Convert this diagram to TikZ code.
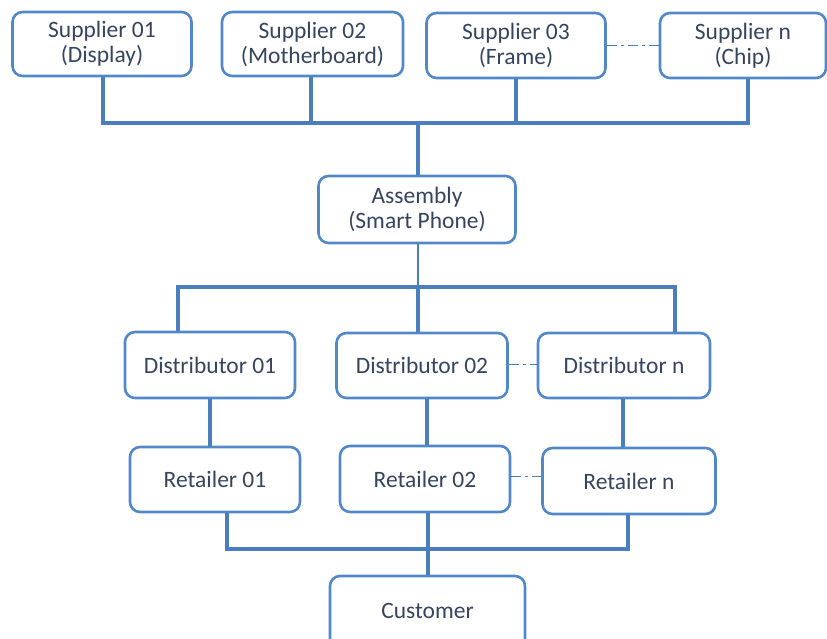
\documentclass[tikz,border=0pt]{standalone}
\usepackage{fontspec}
\setmainfont{Carlito}
\definecolor{boxline}{HTML}{5388C8}
\definecolor{busline}{HTML}{4A7EBF}
\definecolor{labeltext}{HTML}{36445E}
\begin{document}
\begin{tikzpicture}[x=1pt,y=-1pt,
  stage/.style={draw=boxline, line width=2.6pt, rounded corners=10pt, fill=white,
    text=labeltext, font=\fontsize{23.5}{25}\selectfont, align=center,
    inner sep=0pt, anchor=center},
  bus/.style={draw=busline, line width=4pt, line join=miter},
  thinlink/.style={draw=busline, line width=1.6pt},
  peer/.style={draw=busline, line width=1pt, dash pattern=on 10pt off 4pt on 3pt off 4pt}]
\useasboundingbox (0,0) rectangle (827,639);
\begin{scope}
\clip (0,0) rectangle (827,639);

% suppliers
\node[stage, minimum width=179pt, minimum height=64pt] (s1) at (102,44) {Supplier 01\\(Display)};
\node[stage, minimum width=181pt, minimum height=64pt] (s2) at (312.5,44) {Supplier 02\\(Motherboard)};
\node[stage, minimum width=179pt, minimum height=65pt] (s3) at (516,45.5) {Supplier 03\\(Frame)};
\node[stage, minimum width=166pt, minimum height=65pt] (sn) at (743,45.5) {Supplier n\\(Chip)};

% assembly
\node[stage, minimum width=197pt, minimum height=67pt] (asm) at (417,209.5) {Assembly\\(Smart Phone)};

% distributors
\node[stage, minimum width=170pt, minimum height=66pt] (d1) at (210,365) {Distributor 01};
\node[stage, minimum width=171pt, minimum height=65pt] (d2) at (422,365.5) {Distributor 02};
\node[stage, minimum width=172pt, minimum height=65pt] (dn) at (624,365.5) {Distributor n};

% retailers
\node[stage, minimum width=170pt, minimum height=65pt] (r1) at (215,479.5) {Retailer 01};
\node[stage, minimum width=170pt, minimum height=66pt] (r2) at (425,479) {Retailer 02};
\node[stage, minimum width=173pt, minimum height=66pt] (rn) at (629,481) {Retailer n};

% customer
\node[stage, minimum width=195pt, minimum height=80pt] (cu) at (427.5,616) {};
\node[text=labeltext, font=\fontsize{23.5}{25}\selectfont] (cutext) at (427.5,611) {Customer};

% bus junction points and feet of the vertical drops
\coordinate (topbus) at (418,123);
\coordinate (midbus) at (418,287);
\coordinate (lowbus) at (428,549);
\coordinate (s1foot) at ([xshift=1pt]s1.south);
\coordinate (s2foot) at ([xshift=-2pt]s2.south);
\coordinate (snfoot) at ([xshift=5pt]sn.south);
\coordinate (d1top) at (178,0);
\coordinate (dntop) at (675,0);
\coordinate (d2foot) at ([xshift=5pt]d2.south);
\coordinate (dnfoot) at ([xshift=-1pt]dn.south);
\coordinate (r1foot) at ([xshift=12pt]r1.south);
\coordinate (rnfoot) at ([xshift=-1pt]rn.south);

% suppliers to assembly
\draw[bus] (s1foot) |- (snfoot |- topbus) -- (snfoot);
\draw[bus] (s2foot) -- (s2foot |- topbus);
\draw[bus] (s3.south) -- (s3.south |- topbus);
\draw[bus] (topbus) -- (asm.north -| topbus);

% assembly to distributors
\draw[thinlink] (asm.south -| midbus) -- (midbus);
\draw[bus] (d1.north -| d1top) |- (midbus) -| (dn.north -| dntop);
\draw[bus] (midbus) -- (d2.north -| midbus);

% distributors to retailers
\draw[bus] (d1.south) -- (r1.north -| d1.south);
\draw[bus] (d2foot) -- (r2.north -| d2foot);
\draw[bus] (dnfoot) -- (rn.north -| dnfoot);

% retailers to customer
\draw[bus] (r1foot) |- (lowbus) -| (rnfoot);
\draw[bus] (r2.south -| lowbus) -- (lowbus) -- (cu.north -| lowbus);

% peer links
\draw[peer] (s3.east) -- (sn.west);
\draw[peer] ([yshift=1.5pt]d2.east) -- ([yshift=1.5pt]d2.east -| dn.west);
\draw[peer] ([yshift=3pt]r2.east) -- ([yshift=3pt]r2.east -| rn.west);
\end{scope}
\end{tikzpicture}
\end{document}
